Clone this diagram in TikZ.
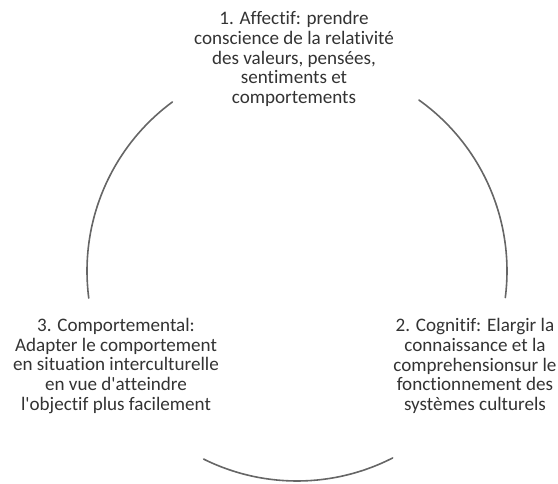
\documentclass[tikz,border=0pt]{standalone}
\usepackage{fontspec}
\setmainfont{Carlito}[Ligatures={ResetAll,NoCommon}]
\newcommand\sqapos{\XeTeXglyph\XeTeXcharglyph"27\relax}
\begin{document}
\begin{tikzpicture}[x=1pt,y=1pt,
  lbl/.style={align=center, text=black!80, font=\fontsize{19.1}{19.7}\selectfont, inner sep=0pt},
  ring/.style={draw=black!60, line width=1.6pt, line cap=round}]
\useasboundingbox (0,0) rectangle (558,-484);
\coordinate (C) at (297,-271);
\node[lbl] (aff) at (294,-59) {1. Affectif: prendre\\conscience de la relativité\\des valeurs, pensées,\\sentiments et\\comportements};
\node[lbl] (cog) at (475,-366) {2. Cognitif: Elargir la\\connaissance et la\\comprehensionsur le\\fonctionnement des\\systèmes culturels};
\node[lbl] (comp) at (116,-366) {3. Comportemental:\\Adapter le comportement\\en situation interculturelle\\en vue d\sqapos atteindre\\l\sqapos objectif plus facilement};
\draw[ring] ([shift={(126.4:210pt)}]C) arc[start angle=126.4, end angle=187.4, radius=210pt];
\draw[ring] ([shift={(54.5:210pt)}]C) arc[start angle=54.5, end angle=-7.3, radius=210pt];
\draw[ring] ([shift={(243.6:210pt)}]C) arc[start angle=243.6, end angle=297.1, radius=210pt];
\end{tikzpicture}
\end{document}
